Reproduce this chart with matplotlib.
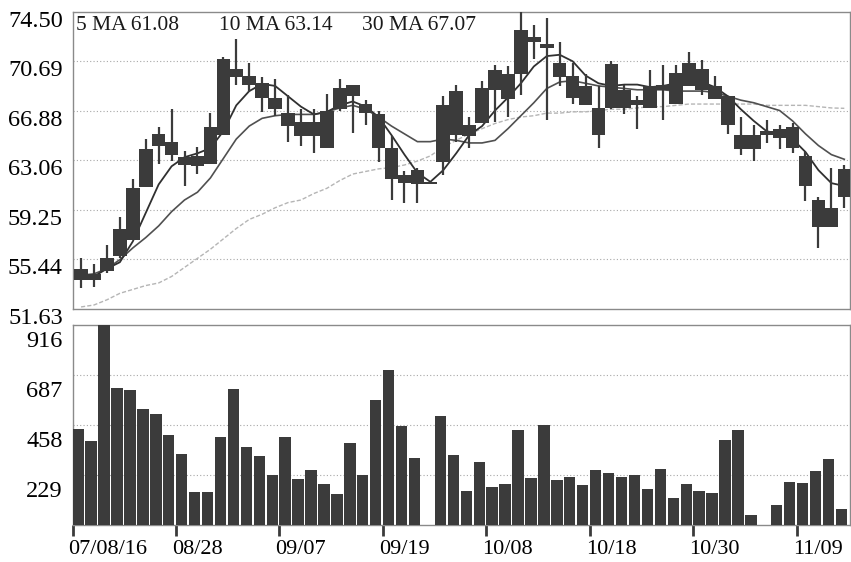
import matplotlib
matplotlib.use("Agg")
import matplotlib.pyplot as plt
from matplotlib.transforms import ScaledTranslation
import numpy as np

# dados do grafico
date_labels = ["07/08/16", "08/28", "09/07", "09/19", "10/08", "10/18", "10/30", "11/09"]
tick_days = [0, 8, 16, 24, 32, 40, 48, 56]

price_ticks = [51.63, 55.44, 59.25, 63.06, 66.88, 70.69, 74.50]
volume_ticks = [229, 458, 687, 916]
ma_labels = ["5 MA 61.08", "10 MA 63.14", "30 MA 67.07"]

opens = [53.8, 54.3, 54.5, 55.7, 56.9, 61.0, 64.2, 64.5, 63.3, 62.6,
         62.8, 65.0, 70.1, 69.6, 69.0, 67.9, 66.7, 66.0, 64.9, 64.0,
         67.0, 68.9, 67.4, 66.6, 64.0, 61.9, 62.35, 61.2, 62.9, 68.4,
         64.9, 65.9, 68.5, 69.7, 69.7, 72.6, 72.0, 70.6, 69.6, 68.8,
         67.1, 67.1, 68.5, 67.3, 67.1, 68.9, 67.4, 68.8, 70.1, 68.8,
         68.0, 65.0, 63.9, 65.0, 65.5, 65.6, 63.4, 60.0, 57.9, 60.2]
closes = [54.7, 53.8, 55.5, 57.8, 60.9, 63.9, 65.1, 63.5, 62.7, 63.4,
          65.6, 70.9, 69.5, 68.9, 67.9, 67.0, 65.7, 64.9, 66.0, 66.9,
          68.6, 68.0, 66.7, 64.0, 61.6, 61.3, 61.2, 61.2, 67.3, 65.0,
          65.8, 68.6, 70.0, 67.8, 73.1, 72.2, 71.7, 69.5, 67.9, 67.3,
          65.0, 70.5, 67.1, 67.7, 68.8, 68.5, 69.8, 70.6, 68.5, 67.8,
          65.8, 63.9, 65.0, 65.3, 64.8, 64.0, 61.1, 57.9, 59.4, 62.4]
highs = [55.5, 55.1, 56.5, 58.7, 61.6, 64.7, 65.6, 67.0, 63.8, 64.1,
         66.7, 71.0, 72.4, 70.6, 69.5, 69.3, 68.1, 67.0, 67.0, 68.2,
         69.3, 68.9, 67.7, 66.9, 64.9, 62.2, 62.5, 61.2, 68.0, 68.9,
         66.4, 69.2, 70.4, 70.3, 74.5, 73.5, 74.0, 72.2, 70.6, 69.7,
         68.8, 70.7, 68.9, 68.0, 70.0, 70.4, 70.4, 71.4, 70.8, 69.6,
         68.0, 66.4, 65.8, 66.2, 65.8, 65.9, 63.7, 60.2, 62.5, 62.7]
lows = [53.2, 53.3, 54.4, 55.5, 56.9, 61.0, 62.8, 63.0, 61.1, 62.0,
        62.8, 65.0, 68.9, 68.3, 66.8, 66.5, 64.5, 64.2, 63.6, 64.0,
        66.9, 65.2, 65.8, 62.9, 60.0, 59.8, 59.8, 61.2, 61.9, 64.5,
        64.0, 65.9, 66.0, 66.4, 68.1, 70.9, 66.2, 68.8, 67.4, 67.3,
        64.0, 67.0, 66.6, 65.5, 67.1, 66.2, 67.4, 68.8, 68.1, 67.8,
        65.1, 63.5, 63.0, 64.4, 63.9, 63.6, 59.9, 56.3, 57.9, 59.4]

volumes = [440, 385, 916, 626, 618, 531, 507, 412, 325, 153,
           153, 405, 623, 356, 316, 229, 402, 211, 250, 188,
           140, 377, 229, 573, 710, 453, 305, 0, 499, 322,
           156, 289, 176, 186, 435, 215, 458, 206, 221, 182,
           252, 238, 220, 229, 166, 258, 124, 188, 156, 147,
           389, 435, 44, 0, 90, 198, 191, 246, 301, 72]

ma5 = [54.1, 54.1, 54.7, 55.2, 56.8, 59.0, 61.2, 62.6, 63.3, 63.6,
       64.0, 65.3, 67.3, 68.4, 68.95, 68.8, 68.0, 67.2, 66.6, 66.8,
       67.3, 67.6, 67.2, 66.4, 65.0, 63.5, 62.1, 61.4, 62.3, 63.6,
       65.0, 65.7, 66.9, 67.9, 69.0, 70.3, 71.1, 71.2, 70.7, 69.6,
       69.0, 68.8, 68.9, 68.9, 68.7, 68.8, 69.0, 69.2, 69.1, 68.7,
       68.0, 67.0, 66.1, 65.3, 65.1, 64.7, 63.7, 62.3, 61.3, 61.08]
ma10 = [54.2, 54.3, 54.7, 55.4, 56.3, 57.1, 58.0, 59.1, 60.0, 60.6,
        61.7, 63.2, 64.7, 65.7, 66.3, 66.5, 66.6, 66.6, 66.6, 66.8,
        67.1, 67.3, 67.0, 66.4, 65.7, 65.1, 64.5, 64.5, 64.7, 64.6,
        64.4, 64.4, 64.6, 65.5, 66.5, 67.5, 68.6, 69.1, 69.2, 69.0,
        68.8, 68.7, 68.6, 68.5, 68.5, 68.5, 68.4, 68.4, 68.4, 68.3,
        68.0, 67.7, 67.5, 67.2, 66.9, 66.1, 65.1, 64.2, 63.5, 63.14]
ma30 = [51.75, 51.9, 52.3, 52.8, 53.1, 53.4, 53.6, 54.1, 54.8, 55.5,
        56.2, 57.0, 57.8, 58.5, 58.9, 59.4, 59.8, 60.0, 60.5, 60.9,
        61.5, 62.0, 62.2, 62.4, 62.5, 62.7, 63.0, 63.4, 64.1, 64.6,
        65.1, 65.5, 65.9, 66.2, 66.4, 66.5, 66.7, 66.7, 66.8, 66.8,
        66.9, 67.0, 67.0, 67.1, 67.2, 67.2, 67.3, 67.4, 67.4, 67.4,
        67.4, 67.4, 67.4, 67.3, 67.3, 67.3, 67.3, 67.2, 67.1, 67.07]

plt.rcParams["font.family"] = ["Liberation Serif", "DejaVu Serif"]

dark = "#3b3b3b"
grid_kw = dict(color="#a8a8a8", lw=0.8, ls=(0, (1, 2)))

n = len(closes)
x = np.arange(n)
xc = x + 0.66  # centro dos candles

o = np.array(opens)
c = np.array(closes)
body_lo = np.minimum(o, c)
body_h = np.maximum(np.abs(c - o), 0.15)

fig = plt.figure(figsize=(8.51, 5.62), dpi=100)
W, H = 851.0, 562.0
ax_p = fig.add_axes([72.5 / W, 1 - 308.5 / H, 777.5 / W, 296.5 / H])
ax_v = fig.add_axes([72.5 / W, 1 - 525 / H, 777.5 / W, 200 / H])

# 1) Precos (candles + medias moveis)
ax_p.plot(xc, ma30, color="#b5b5b5", lw=1.0, ls=(0, (3, 1.5)), zorder=2)
ax_p.plot(xc, ma10, color="#505050", lw=1.2, zorder=2)
ax_p.plot(xc, ma5, color="#303030", lw=1.3, zorder=2)
ax_p.vlines(xc, lows, highs, color=dark, lw=1.6, zorder=3)
ax_p.bar(xc, body_h, bottom=body_lo, width=1.05, color=dark, lw=0, zorder=4)

ax_p.set_xlim(0, 60.1)
ax_p.set_ylim(price_ticks[0], price_ticks[-1])
ax_p.set_yticks(price_ticks)
ax_p.set_yticklabels([f"{t:.2f}" for t in price_ticks])
for t in price_ticks[1:-1]:
    ax_p.axhline(t, zorder=1, **grid_kw)
ax_p.tick_params(axis="x", length=0, labelbottom=False)
ax_p.tick_params(axis="y", length=0, pad=7, labelsize=17.5)

for lab, xpos in zip(ma_labels, [0.005, 0.188, 0.372]):
    ax_p.text(xpos, 0.985, lab, transform=ax_p.transAxes, ha="left", va="top",
              fontsize=15.5, color="#1a1a1a", zorder=6)

# 2) Volume
ax_v.bar(x, volumes, width=0.88, align="edge", color=dark, lw=0, zorder=3)
ax_v.set_xlim(0, 60.1)
ax_v.set_ylim(0, volume_ticks[-1])
ax_v.set_yticks(volume_ticks)
for t in volume_ticks[:-1]:
    ax_v.axhline(t, zorder=1, **grid_kw)
ax_v.set_xticks(tick_days)
ax_v.set_xticklabels(date_labels, ha="left")
ax_v.tick_params(axis="x", length=8, width=2, color=dark, pad=3, labelsize=16)
ax_v.tick_params(axis="y", length=0, pad=7, labelsize=17.5)

for ax in (ax_p, ax_v):
    for sp in ax.spines.values():
        sp.set_color("#8a8a8a")
        sp.set_linewidth(1.0)

# deslocamento dos rotulos (como no original, abaixo da linha)
for lab in ax_p.get_yticklabels():
    lab.set_transform(lab.get_transform() + ScaledTranslation(0, -0.07, fig.dpi_scale_trans))
for lab in ax_v.get_yticklabels():
    lab.set_transform(lab.get_transform() + ScaledTranslation(0, -0.14, fig.dpi_scale_trans))
for lab in ax_v.get_xticklabels():
    lab.set_transform(lab.get_transform() + ScaledTranslation(-0.04, 0, fig.dpi_scale_trans))

fig.savefig("out.png", dpi=100)
